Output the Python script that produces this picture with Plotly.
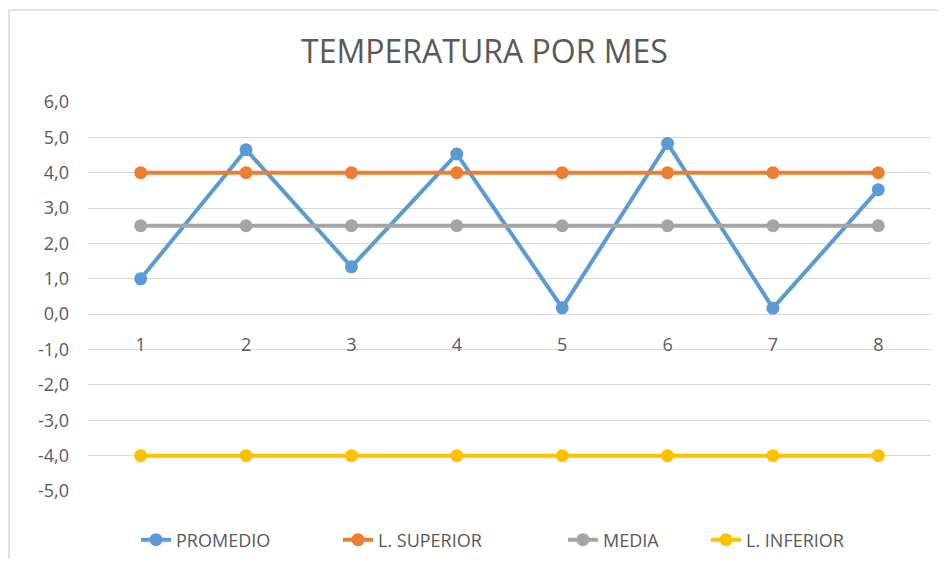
import plotly.graph_objects as go

meses = [1, 2, 3, 4, 5, 6, 7, 8]
promedio = [1.0, 4.65, 1.34, 4.53, 0.18, 4.83, 0.17, 3.52]
l_superior = [4.0] * 8
media = [2.5] * 8
l_inferior = [-4.0] * 8
y_ticks = [6, 5, 4, 3, 2, 1, 0, -1, -2, -3, -4, -5]
y_ticktext = [f"{v:.1f}".replace(".", ",") for v in y_ticks]

series = [
    ("PROMEDIO", promedio, "#5B9BD5"),
    ("L. SUPERIOR", l_superior, "#ED7D31"),
    ("MEDIA", media, "#A5A5A5"),
    ("L. INFERIOR", l_inferior, "#FFC000"),
]

# The page body has an 8px default margin; work in figure coords = screen - 8
OFF = 8
W, H = 946 - 2 * OFF, 567 - 2 * OFF
plot_left, plot_right, plot_top, plot_bottom = 88 - OFF, 931 - OFF, 102 - OFF, 491 - OFF
L, R, T, B = plot_left, W - plot_right, plot_top, H - plot_bottom
legend_text_x = [178, 380, 605, 748]  # screen px, left edge of legend texts

font = "Open Sans, Noto Sans, sans-serif"
grey_txt = "#595959"

fig = go.Figure()
layout_legends = {}
for i, (name, vals, color) in enumerate(series):
    key = "legend" if i == 0 else f"legend{i + 1}"
    fig.add_trace(go.Scatter(
        x=meses, y=vals, name=name, mode="lines+markers",
        line=dict(color=color, width=4),
        marker=dict(color=color, size=13),
        legend=key,
    ))
    layout_legends[key] = dict(
        orientation="h", xref="container", yref="container",
        x=(legend_text_x[i] - OFF - 42) / W, xanchor="left",
        y=1 - (540 - OFF) / H, yanchor="middle",
        font=dict(size=18, color=grey_txt, family=font),
        bgcolor="rgba(0,0,0,0)",
    )

fig.update_layout(
    width=W, height=H,
    margin=dict(l=L, r=R, t=T, b=B, autoexpand=False),
    paper_bgcolor="white", plot_bgcolor="white",
    font=dict(family=font, color=grey_txt, size=18),
    title=dict(text="TEMPERATURA POR MES", x=(484.5 - OFF) / W, xanchor="center",
               xref="container", yref="container",
               y=1 - (52 - OFF) / H, yanchor="middle",
               font=dict(size=32, color=grey_txt, family=font)),
    showlegend=True,
    xaxis=dict(range=[0.5, 8.5], tickvals=meses, ticktext=[str(m) for m in meses],
               showgrid=False, zeroline=False, showline=False,
               anchor="free", position=5 / 11, automargin=False,
               ticks="outside", ticklen=14, tickcolor="rgba(0,0,0,0)",
               tickfont=dict(size=18, color=grey_txt)),
    yaxis=dict(range=[-5, 6], tickvals=y_ticks, ticktext=y_ticktext,
               showgrid=True, gridcolor="#D9D9D9", gridwidth=1,
               zeroline=True, zerolinecolor="#D9D9D9", zerolinewidth=1,
               showline=False, ticklabelstandoff=18, automargin=False,
               tickfont=dict(size=18, color=grey_txt)),
    **layout_legends,
)

# chart frame: only left and top edges are visible in the reference
pw, ph = W - L - R, H - T - B
fx0 = (9 - OFF - L) / pw
fy1 = (plot_bottom - (10 - OFF)) / ph
frame = dict(color="#D9D9D9", width=1.5)
fig.add_shape(type="line", xref="paper", yref="paper", x0=fx0, x1=fx0,
              y0=-(B + 20) / ph, y1=fy1, line=frame, layer="below")
fig.add_shape(type="line", xref="paper", yref="paper", x0=fx0, x1=(W + 20 - L) / pw,
              y0=fy1, y1=fy1, line=frame, layer="below")

fig.write_html("out.html")
